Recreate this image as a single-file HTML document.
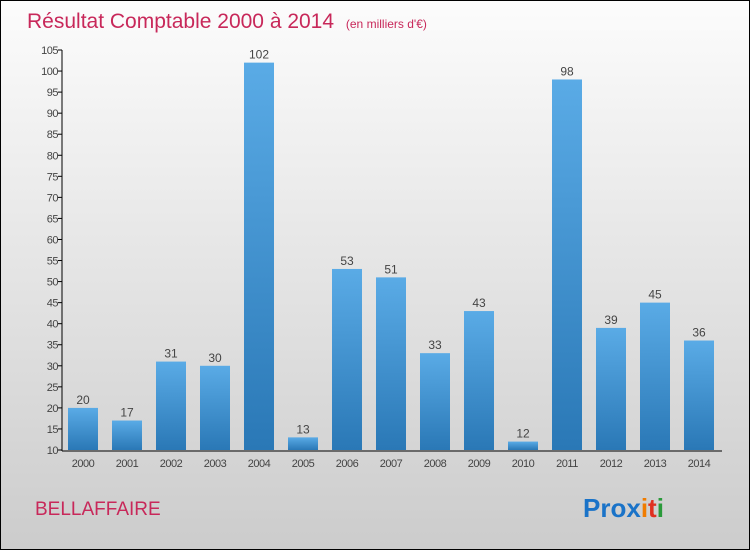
<!DOCTYPE html>
<html><head><meta charset="utf-8"><style>
body{margin:0}
#c{width:748px;height:548px;border:1px solid #000;background:linear-gradient(#fcfcfc,#cccccc);position:relative;overflow:hidden;font-family:"Liberation Sans",sans-serif}
</style></head><body>
<div id="c">
<svg id="s" width="748" height="548" style="position:absolute;left:0;top:0">
<defs><linearGradient id="g" x1="0" y1="0" x2="0" y2="1"><stop offset="0" stop-color="#5aabe6"/><stop offset="1" stop-color="#2a78b6"/></linearGradient></defs>
<text x="26" y="27" font-size="21" fill="#c8285a">Résultat Comptable 2000 à 2014 <tspan font-size="12" dx="6">(en milliers d'€)</tspan></text>
<text x="34" y="514" font-size="19" fill="#c8285a">BELLAFFAIRE</text>
<text x="582" y="516" font-size="26" font-weight="bold"><tspan fill="#1a73c8">Pro</tspan><tspan fill="#1a73c8">x</tspan><tspan fill="#f07c00">i</tspan><tspan fill="#e03020">t</tspan><tspan fill="#2a9a3a">i</tspan></text>
<g id="plot"></g>
</svg>
</div>
<script>
const years=["2000","2001","2002","2003","2004","2005","2006","2007","2008","2009","2010","2011","2012","2013","2014"];
const values=[20,17,31,30,102,13,53,51,33,43,12,98,39,45,36];
const ticks=[10,15,20,25,30,35,40,45,50,55,60,65,70,75,80,85,90,95,100,105];
const ns="http://www.w3.org/2000/svg";
const g=document.getElementById('plot');
const y=v=>449-(v-10)*(400/95);
const x=i=>82+i*44;
function mk(t,a){const e=document.createElementNS(ns,t);for(const k in a)e.setAttribute(k,a[k]);g.appendChild(e);return e;}
let ax=mk('line',{x1:61,y1:49,x2:61,y2:450,stroke:'#000'});


let bx=mk('line',{x1:61,y1:450,x2:721,y2:450,stroke:'#000'});


ticks.forEach(t=>{
 mk('line',{x1:57,x2:61,y1:y(t),y2:y(t),stroke:'#000'});
 const l=mk('text',{x:57,y:y(t)+4,'font-size':11,'text-anchor':'end',fill:'#444','letter-spacing':'-0.5'});
 l.textContent=t;
 
 
});
years.forEach((yr,i)=>{
 const v=values[i];
 const b=mk('rect',{x:x(i)-15,y:y(v),width:30,height:449-y(v),fill:'url(#g)'});
 
 
 const vl=mk('text',{x:x(i),y:y(v)-4,'font-size':12,'text-anchor':'middle',fill:'#444'});
 vl.textContent=v;
 
 
 const xl=mk('text',{x:x(i),y:466,'font-size':11,'text-anchor':'middle',fill:'#444','letter-spacing':'-0.5'});
 xl.textContent=yr;
 
 
});
</script>
</body></html>
